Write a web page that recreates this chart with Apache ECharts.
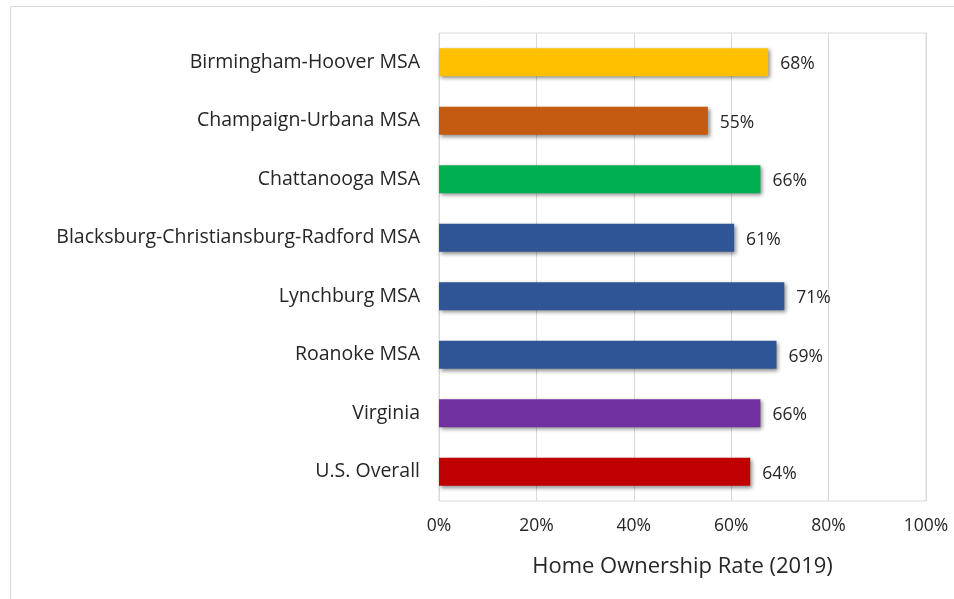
<!DOCTYPE html>
<html>
<head>
<meta charset="utf-8">
<script src="https://cdn.jsdelivr.net/npm/echarts@6/dist/echarts.min.js"></script>
<style>
  html, body { margin: 0; padding: 0; background: #fff; }
  #main { width: 954px; height: 599px; }
</style>
</head>
<body>
<div id="main"></div>
<script>
// categories top to bottom
var regions = ['Birmingham-Hoover MSA', 'Champaign-Urbana MSA', 'Chattanooga MSA',
  'Blacksburg-Christiansburg-Radford MSA', 'Lynchburg MSA', 'Roanoke MSA', 'Virginia', 'U.S. Overall'];
// home ownership rate (%)
var rates = [67.6, 55.2, 66.0, 60.6, 70.9, 69.3, 66.0, 63.9];
var barColors = ['#FFC000', '#C55A11', '#00B050', '#2F5597', '#2F5597', '#2F5597', '#7030A0', '#C00000'];
var tickValues = [0, 20, 40, 60, 80, 100];

var font = 'Open Sans';
var myChart = echarts.init(document.getElementById('main'));

var option = {
  animation: false,
  textStyle: { fontFamily: font },
  graphic: [{
    // outer chart frame (cut off at right/bottom)
    type: 'rect',
    shape: { x: 10.5, y: 6.5, width: 1000, height: 1000 },
    style: { fill: 'none', stroke: '#d9d9d9', lineWidth: 1 }
  }],
  grid: {
    left: 439, right: 28, top: 33, bottom: 98,
    show: true, borderColor: '#d9d9d9', borderWidth: 1
  },
  xAxis: {
    type: 'value',
    min: tickValues[0], max: tickValues[tickValues.length - 1], interval: 20,
    axisLine: { show: false },
    axisTick: { show: false },
    splitLine: { lineStyle: { color: '#d9d9d9' } },
    axisLabel: {
      formatter: '{value}%', color: '#262626', fontSize: 17.5, margin: 16, fontFamily: font
    },
    name: 'Home Ownership Rate (2019)',
    nameLocation: 'middle', nameGap: 55,
    nameTextStyle: { color: '#262626', fontSize: 22, fontFamily: font }
  },
  yAxis: {
    type: 'category', inverse: true, data: regions,
    axisLine: { show: false },
    axisTick: { show: false },
    axisLabel: { color: '#262626', fontSize: 19.5, margin: 19, fontFamily: font }
  },
  series: [{
    type: 'bar',
    data: rates.map(function (v, i) {
      return { value: v, itemStyle: { color: barColors[i] } };
    }),
    barWidth: 28,
    itemStyle: {
      shadowColor: 'rgba(0,0,0,0.45)', shadowBlur: 4, shadowOffsetX: 2, shadowOffsetY: 2
    },
    label: {
      show: true, position: 'right', distance: 12, offset: [0, 2],
      color: '#262626', fontSize: 17.5, fontFamily: font,
      formatter: function (p) { return Math.round(p.value) + '%'; }
    }
  }]
};
myChart.setOption(option);
</script>
</body>
</html>
